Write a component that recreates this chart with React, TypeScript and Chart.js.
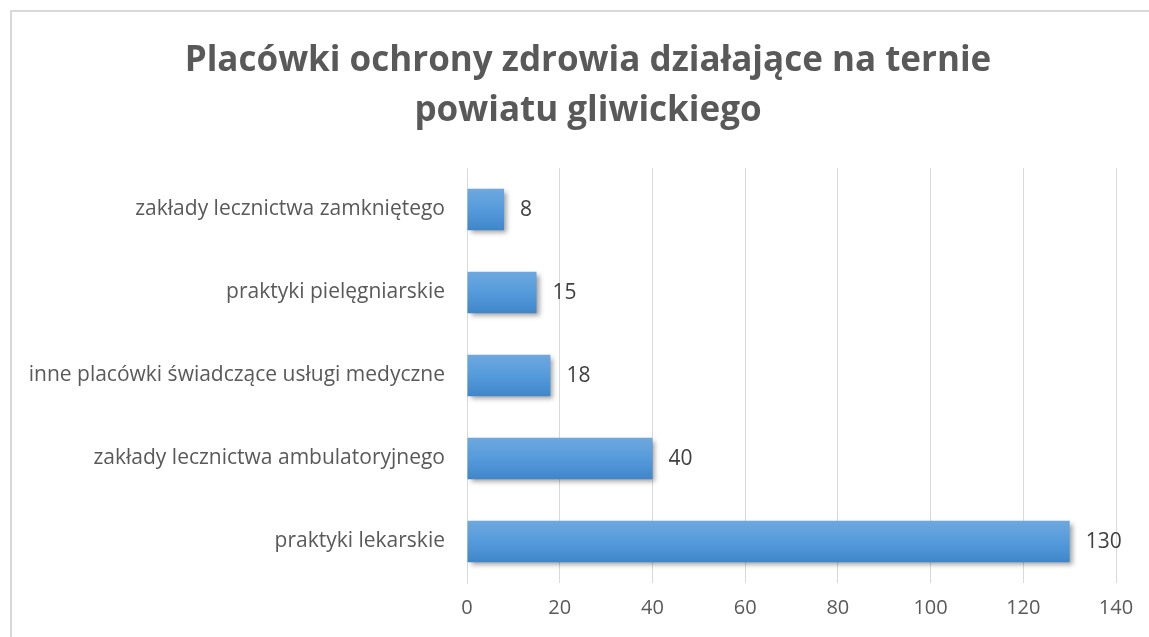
import React, { useEffect, useRef } from "react";
import { Chart, registerables } from "chart.js";

Chart.register(...registerables);

const categories = [
  "zakłady lecznictwa zamkniętego",
  "praktyki pielęgniarskie",
  "inne placówki świadczące usługi medyczne",
  "zakłady lecznictwa ambulatoryjnego",
  "praktyki lekarskie",
];
const values = [8, 15, 18, 40, 130];
const titleLines = ["Placówki ochrony zdrowia działające na ternie", "powiatu gliwickiego"];
const xMin = 0;
const xMax = 140;
const xStep = 20;

const FONT = "'Open Sans', 'Noto Sans', sans-serif";

const shadowPlugin = {
  id: "barShadow",
  afterLayout(chart: any) {
    // let the category labels use the full width to the left of the plot
    const ys = chart.scales.y;
    if (ys) ys.left = 0;
  },
  beforeDatasetsDraw(chart: any) {
    const ctx = chart.ctx;
    ctx.save();
    ctx.shadowColor = "rgba(0,0,0,0.38)";
    ctx.shadowBlur = 5;
    ctx.shadowOffsetX = 3;
    ctx.shadowOffsetY = 3;
  },
  afterDatasetsDraw(chart: any) {
    chart.ctx.restore();
  },
};

const labelPlugin = {
  id: "valueLabels",
  afterDatasetsDraw(chart: any) {
    const ctx = chart.ctx;
    const meta = chart.getDatasetMeta(0);
    ctx.save();
    ctx.font = `21px ${FONT}`;
    ctx.fillStyle = "#404040";
    ctx.textAlign = "left";
    ctx.textBaseline = "middle";
    meta.data.forEach((bar: any, i: number) => {
      ctx.fillText(String(values[i]), bar.x + 16, bar.y + 1);
    });
    ctx.restore();
  },
};

export default function App() {
  const ref = useRef<HTMLCanvasElement | null>(null);
  useEffect(() => {
    if (!ref.current) return;
    const chart = new Chart(ref.current, {
      type: "bar",
      data: {
        labels: categories,
        datasets: [
          {
            data: values,
            backgroundColor: (c: any) => {
              const ch = c.chart;
              const ys = ch.scales && ch.scales.y;
              if (!ch.chartArea || !ys) return "#5499da";
              const cy = ys.getPixelForValue(c.dataIndex);
              const h = ys.height / categories.length * 0.5;
              if (!Number.isFinite(cy) || !Number.isFinite(h) || h <= 0) return "#5499da";
              const y0 = cy - h / 2;
              const g = ch.ctx.createLinearGradient(0, y0, 0, y0 + h);
              g.addColorStop(0, "#6ea8de");
              g.addColorStop(0.5, "#559bdc");
              g.addColorStop(1, "#3f86c9");
              return g;
            },
            borderWidth: 0,
            barPercentage: 0.5,
            categoryPercentage: 1,
          },
        ],
      },
      options: {
        indexAxis: "y",
        animation: false,
        responsive: false,
        maintainAspectRatio: false,
        layout: { padding: { left: 60, right: 33, top: 0, bottom: 0 } },
        plugins: {
          legend: { display: false },
          tooltip: { enabled: false },
          title: {
            display: true,
            text: titleLines,
            color: "#595959",
            font: { family: FONT, size: 35, weight: "bold", lineHeight: 50 / 35 },
            padding: { top: 36, bottom: 32 },
          },
        },
        scales: {
          x: {
            min: xMin,
            max: xMax,
            ticks: {
              stepSize: xStep,
              color: "#595959",
              font: { family: FONT, size: 20 },
              padding: 13,
            },
            grid: { color: "#d9d9d9", drawTicks: false },
            border: { display: false },
            afterFit: (s: any) => {
              s.height = 54;
            },
          },
          y: {
            ticks: {
              color: "#595959",
              font: { family: FONT, size: 21 },
              padding: 22,
            },
            grid: { display: false, drawTicks: false },
            border: { display: true, color: "#d9d9d9" },
            afterFit: (s: any) => {
              s.width = 407;
            },
          },
        },
      },
      plugins: [shadowPlugin, labelPlugin],
    } as any);
    return () => chart.destroy();
  }, []);
  return (
    <div style={{ position: "absolute", left: 0, top: 0, width: 1149, height: 637, background: "#fff", overflow: "hidden" }}>
      <div
        style={{
          position: "absolute",
          left: 10,
          top: 10,
          width: 1200,
          height: 700,
          borderLeft: "2px solid #d9d9d9",
          borderTop: "2px solid #d9d9d9",
        }}
      />
      <canvas ref={ref} width={1149} height={637} style={{ position: "absolute", left: 0, top: 0, width: 1149, height: 637 }} />
    </div>
  );
}
